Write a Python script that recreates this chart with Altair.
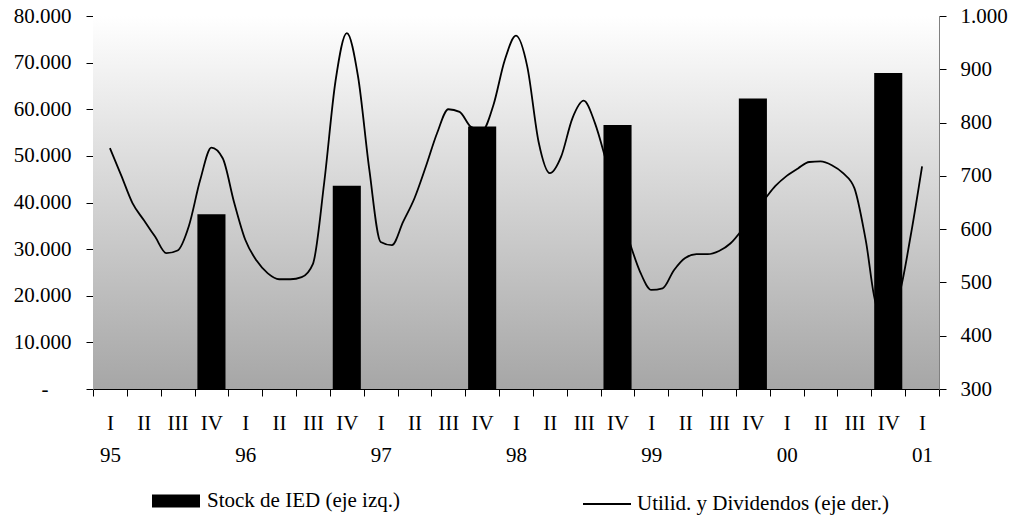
import altair as alt
import pandas as pd

# --- data -----------------------------------------------------------------
quarters = ["I", "II", "III", "IV"] * 6 + ["I"]
years = (["1995"] * 4 + ["1996"] * 4 + ["1997"] * 4 + ["1998"] * 4
         + ["1999"] * 4 + ["2000"] * 4 + ["2001"])
categories = [f"{q} {y}" for q, y in zip(quarters, years)]

bar_name = "Stock de IED (eje izq.)"
line_name = "Utilid. y Dividendos (eje der.)"

bar_categories = ["IV 1995", "IV 1996", "IV 1997", "IV 1998", "IV 1999", "IV 2000"]
bar_values = [37500, 43600, 56300, 56600, 62300, 67800]

# monthly values, Jan 1995 ... Jan 2001 (right axis)
line_values = [
    752, 701, 649, 617, 586, 555, 560, 606, 692, 753, 733, 651,
    580, 541, 517, 506, 506, 510, 535, 688, 878, 968, 886, 711,
    576, 570, 614, 658, 717, 780, 825, 820, 792, 785, 833, 917,
    963, 905, 764, 705, 736, 808, 841, 799, 727, 648, 580, 520,
    486, 489, 523, 546, 553, 553, 559, 573, 598, 630, 655, 681,
    700, 714, 726, 727, 720, 705, 677, 580, 455, 445, 480, 589,
    718,
]

bar_df = pd.DataFrame({"cat": bar_categories, "stock": bar_values, "serie": bar_name})
line_df = pd.DataFrame({
    "pos": [i / 3 for i in range(len(line_values))],
    "val": line_values,
    "serie": line_name,
})

FONT = "Liberation Serif"
FS = 21
W, H = 846, 373

bg = alt.Chart(alt.Data(values=[{}])).mark_rect(
    color=alt.LinearGradient(
        gradient="linear",
        stops=[alt.GradientStop(color="#ffffff", offset=0),
               alt.GradientStop(color="#a6a6a6", offset=1)],
        x1=0, x2=0, y1=0, y2=1,
    )
).encode(x=alt.value(0), x2=alt.value(W), y=alt.value(0), y2=alt.value(H))

line = alt.Chart(line_df).mark_line(strokeWidth=1.8, interpolate="monotone").encode(
    x=alt.X("pos:Q", scale=alt.Scale(domain=[-0.5, 24.5], nice=False, zero=False), axis=None),
    y=alt.Y(
        "val:Q",
        scale=alt.Scale(domain=[300, 1000], nice=False, zero=False),
        axis=alt.Axis(
            orient="right", values=list(range(300, 1001, 100)), title=None,
            labelExpr="replace(format(datum.value, ',.0f'), ',', '.')",
            labelFont=FONT, labelFontSize=FS, labelColor="black",
            tickColor="black", tickSize=7, labelPadding=14,
            domainColor="#808080", grid=False,
        ),
    ),
    stroke=alt.Stroke(
        "serie:N",
        scale=alt.Scale(domain=[line_name], range=["black"]),
        legend=alt.Legend(
            orient="none", legendX=489, legendY=463, title=None,
            symbolType="M-1,0H1", symbolSize=2304, symbolStrokeWidth=1.8,
            labelFont=FONT, labelFontSize=FS, labelColor="black",
            labelOffset=5, padding=0, labelLimit=0,
        ),
    ),
)

x_label_expr = (
    "isValid(datum.value) ? "
    "[split(datum.value, ' ')[0], "
    "split(datum.value, ' ')[0] == 'I' ? slice(split(datum.value, ' ')[1], 2) : ''] : ''"
)

bars = alt.Chart(bar_df).mark_bar(width=alt.RelativeBandSize(0.83)).encode(
    x=alt.X(
        "cat:N",
        scale=alt.Scale(domain=categories, paddingInner=0, paddingOuter=0),
        axis=alt.Axis(
            title=None, tickBand="extent", labelAngle=0, labelOverlap=False,
            labelExpr=x_label_expr,
            labelFont=FONT, labelFontSize=FS, labelColor="black",
            labelLineHeight=32, labelPadding=16,
            tickColor="black", tickSize=7, domainColor="black",
        ),
    ),
    y=alt.Y(
        "stock:Q",
        scale=alt.Scale(domain=[0, 80000], nice=False),
        axis=alt.Axis(
            orient="left", values=list(range(0, 80001, 10000)), title=None,
            labelExpr="datum.value == 0 ? '-' : replace(format(datum.value, ',.0f'), ',', '.')",
            labelFont=FONT, labelFontSize=FS, labelColor="black",
            tickColor="black", tickSize=7,
            labelPadding={"condition": {"test": "datum.value == 0", "value": 38}, "value": 15},
            domainColor="#808080", grid=False,
        ),
    ),
    color=alt.Color(
        "serie:N",
        scale=alt.Scale(domain=[bar_name], range=["black"]),
        legend=alt.Legend(
            orient="none", legendX=59, legendY=461, title=None,
            symbolType="M-1,-0.27H1V0.27H-1Z", symbolSize=2304, symbolStrokeWidth=0,
            labelFont=FONT, labelFontSize=FS, labelColor="black",
            labelOffset=7, padding=0, labelLimit=0,
        ),
    ),
)

chart = alt.layer(bg, line, bars).resolve_scale(
    x="independent", y="independent", color="independent"
).properties(
    width=W, height=H,
    padding={"left": 93, "top": 16, "right": 75, "bottom": 127},
    autosize=alt.AutoSizeParams(type="none"),
    background="white",
).configure_view(stroke=None)

chart.save("out.html", embed_options={"renderer": "svg", "actions": False})
